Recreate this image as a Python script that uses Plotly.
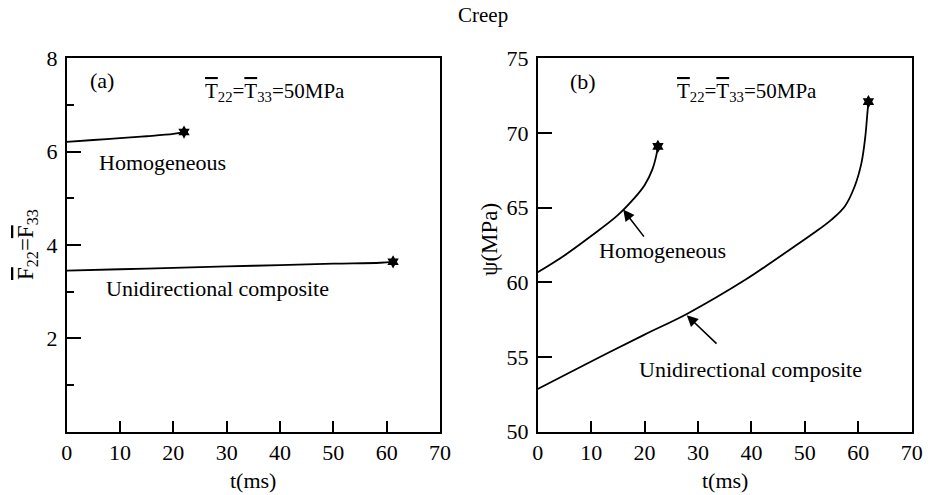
import plotly.graph_objects as go

W, H = 933, 495

# ---- data ----
t_hom_a = [0, 5, 10, 15, 20, 22]
F_hom_a = [6.21, 6.25, 6.29, 6.33, 6.38, 6.42]
t_uni_a = [0, 10, 20, 30, 40, 50, 58.8, 61.2]
F_uni_a = [3.45, 3.48, 3.51, 3.54, 3.57, 3.60, 3.62, 3.64]

t_hom_b = [0, 5, 10, 15, 18, 20, 21.5, 22.2, 22.5]
P_hom_b = [60.67, 61.8, 63.1, 64.5, 65.6, 66.5, 67.6, 68.5, 69.1]
t_uni_b = [0, 10, 20, 28, 39, 45.4, 51.6, 55, 57.5, 59.3, 60.6, 61.3, 61.7, 61.9]
P_uni_b = [52.86, 54.7, 56.5, 57.9, 60.2, 61.75, 63.28, 64.2, 65.1, 66.4, 68.0, 69.7, 71.3, 72.1]

x_ticks = [0, 10, 20, 30, 40, 50, 60, 70]
ya_ticks = [2, 4, 6, 8]
ya_minor = [1, 3, 5, 7]
yb_ticks = [50, 55, 60, 65, 70, 75]

FONT = "Liberation Serif"
BLACK = "black"


def px(x):
    return x / W


def py(y):
    return 1 - y / H


fig = go.Figure()

def curve(t, v, xa, ya):
    fig.add_trace(go.Scatter(x=t, y=v, mode="lines", xaxis=xa, yaxis=ya,
                             line=dict(color=BLACK, width=1.8, shape="spline", smoothing=1.0),
                             showlegend=False, hoverinfo="skip"))
    fig.add_trace(go.Scatter(x=[t[-1]], y=[v[-1]], mode="markers", xaxis=xa, yaxis=ya,
                             marker=dict(symbol="hexagram", size=10, color=BLACK),
                             showlegend=False, hoverinfo="skip"))

curve(t_hom_a, F_hom_a, "x", "y")
curve(t_uni_a, F_uni_a, "x", "y")
curve(t_hom_b, P_hom_b, "x2", "y2")
curve(t_uni_b, P_uni_b, "x2", "y2")

tickfont = dict(family=FONT, size=22, color=BLACK)
common_x = dict(range=[0, 70], tickvals=x_ticks, ticks="inside", ticklen=11, tickwidth=1.5,
                tickcolor=BLACK, showline=True, linecolor=BLACK, linewidth=1.5, mirror=True,
                showgrid=False, zeroline=False, tickfont=tickfont, automargin=False)
common_y = dict(ticks="inside", ticklen=15, tickwidth=1.5, tickcolor=BLACK, showline=True,
                linecolor=BLACK, linewidth=1.5, mirror=True, showgrid=False, zeroline=False,
                tickfont=tickfont, automargin=False, ticklabelstandoff=3)

ydom = [py(431.7), py(58.3)]
fig.update_layout(
    width=W, height=H,
    margin=dict(l=0, r=0, t=0, b=0),
    paper_bgcolor="white", plot_bgcolor="white",
    font=dict(family=FONT, size=22, color=BLACK),
    xaxis=dict(domain=[px(66.7), px(440)], anchor="y", **common_x),
    yaxis=dict(domain=ydom, anchor="x", range=[0, 8], tickvals=ya_ticks,
               minor=dict(tickvals=ya_minor, ticks="inside", ticklen=8, tickwidth=1.5, tickcolor=BLACK),
               **common_y),
    xaxis2=dict(domain=[px(537.7), px(911.7)], anchor="y2", **common_x),
    yaxis2=dict(domain=ydom, anchor="x2", range=[50, 75], tickvals=yb_ticks, **common_y),
)

OL = '<span style="text-decoration:overline">T</span>'
OLF = '<span style="text-decoration:overline">F</span>'
Ttext = f"{OL}<sub>22</sub>={OL}<sub>33</sub>=50MPa"

ann = []
def txt(x, y, s, size=22, angle=0, xanchor="center"):
    ann.append(dict(x=px(x), y=py(y), xref="paper", yref="paper", text=s, showarrow=False,
                    font=dict(family=FONT, size=size, color=BLACK), textangle=angle,
                    xanchor=xanchor, yanchor="middle"))

txt(483, 15, "Creep", 21)
txt(253, 480, "t(ms)", 22)
txt(725, 480, "t(ms)", 22)
txt(27, 245, f"{OLF}<sub>22</sub>={OLF}<sub>33</sub>", 23, -90)
txt(489, 240, "ψ(MPa)", 23, -90)
txt(102, 81, "(a)", 22)
txt(583, 82, "(b)", 22)
txt(203, 92, Ttext, 21, xanchor="left")
txt(675, 92, Ttext, 21, xanchor="left")
txt(97, 162, "Homogeneous", 22, xanchor="left")
txt(104, 288, "Unidirectional composite", 22, xanchor="left")
txt(597, 250, "Homogeneous", 22, xanchor="left")
txt(637, 369, "Unidirectional composite", 22, xanchor="left")

# arrows (tip on curve, tail near label), data coordinates
ann.append(dict(x=16, y=64.87, ax=20.1, ay=62.96, xref="x2", yref="y2", axref="x2", ayref="y2",
                showarrow=True, arrowhead=2, arrowsize=1.4, arrowwidth=1.6, arrowcolor=BLACK, text=""))
ann.append(dict(x=27.9, y=57.8, ax=33.75, ay=55.8, xref="x2", yref="y2", axref="x2", ayref="y2",
                showarrow=True, arrowhead=2, arrowsize=1.4, arrowwidth=1.6, arrowcolor=BLACK, text=""))

fig.update_layout(annotations=ann)
fig.write_html("out.html")
